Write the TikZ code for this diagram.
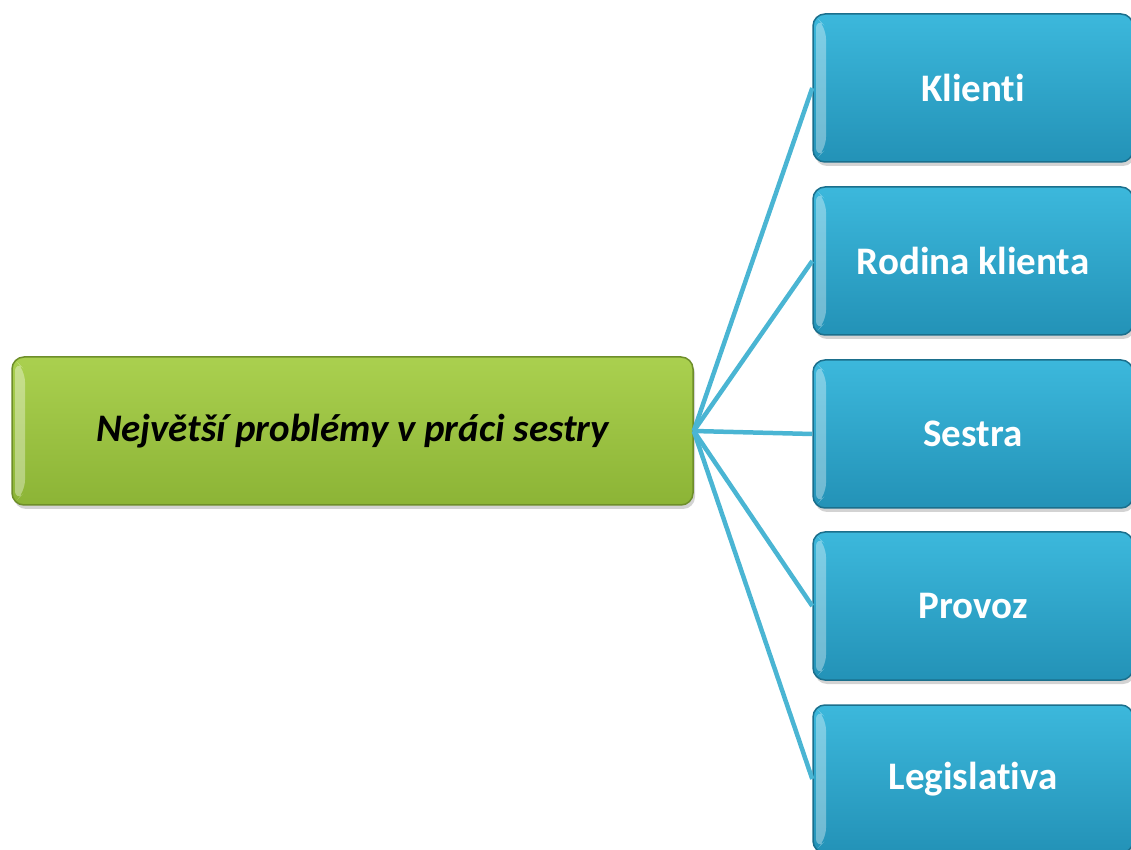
\documentclass[tikz,border=0pt]{standalone}
\usepackage{fontspec}
\setmainfont{Carlito}[Ligatures=NoCommon]
\usetikzlibrary{shadows}

\definecolor{itemtop}{HTML}{3CB8DC}
\definecolor{itembot}{HTML}{2392B7}
\definecolor{itemline}{HTML}{1B6F8C}
\definecolor{topictop}{HTML}{AAD04F}
\definecolor{topicbot}{HTML}{8CB436}
\definecolor{topicline}{HTML}{6E8E2A}
\definecolor{linkblue}{HTML}{4AB5D3}

\begin{document}
\begin{tikzpicture}[x=1pt, y=1pt]
    \tikzstyle{box}=[rectangle, rounded corners=12pt, line width=1.5pt, minimum height=148pt,
        drop shadow={opacity=0.35, shadow xshift=2pt, shadow yshift=-4pt},
        path picture={\fill[white, opacity=0.35]
            ([shift={(3pt,-3pt)}]path picture bounding box.north west) --
            ([shift={(3pt,3pt)}]path picture bounding box.south west) --
            ([shift={(13pt,13pt)}]path picture bounding box.south west) --
            ([shift={(13pt,-13pt)}]path picture bounding box.north west) -- cycle;}]
    \tikzstyle{topic}=[box, minimum width=681pt, draw=topicline, top color=topictop, bottom color=topicbot,
        font=\fontsize{39}{46}\selectfont\bfseries\itshape]
    \tikzstyle{item}=[box, minimum width=320pt, draw=itemline, top color=itemtop, bottom color=itembot,
        text=white, font=\fontsize{39}{46}\selectfont\bfseries]
    \tikzstyle{link}=[draw=linkblue, line width=4.5pt]

    \useasboundingbox (0,0) rectangle (1131,849);

    \node[topic] (topic) at (352.5,418) {Největší problémy v práci sestry};

    \foreach \name / \y / \txt in {1/761/Klienti, 2/588/Rodina klienta, 3/415/Sestra,
                                   4/243/Provoz, 5/70/Legislativa}
        \node[item] (P-\name) at (973,\y) {\txt};

    \foreach \dest in {1,...,5}
        \path[link] (topic.east) -- (P-\dest.west);
\end{tikzpicture}
\end{document}
